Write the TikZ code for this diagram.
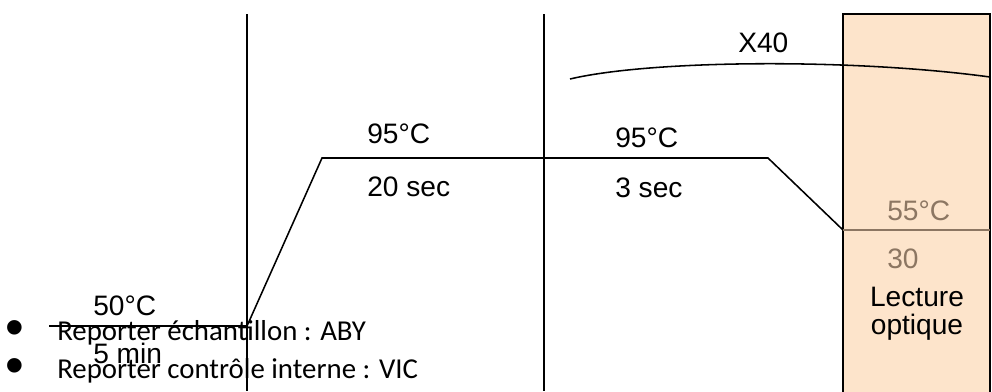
\documentclass[tikz,border=0pt]{standalone}
\usepackage{fontspec}
\setmainfont{Liberation Sans}
\newfontfamily\carlito{Carlito}
\definecolor{peach}{HTML}{FDE4CB}
\definecolor{mud}{HTML}{8C7662}
\begin{document}
\begin{tikzpicture}[x=0.025cm, y=-0.025cm,
    lbl/.style={font=\fontsize{20}{24}\selectfont, inner sep=0, anchor=base west},
    note/.style={font=\carlito\fontsize{20.5}{24}\selectfont, inner sep=0, anchor=base west},
    dot/.style={font=\fontsize{38}{38}\selectfont, inner sep=0, anchor=center},
    prof/.style={line width=1.1pt}]

    \useasboundingbox (0,0) rectangle (992,391);

    % Reading zone
    \fill[peach] (843,14) rectangle (990,395);
    \draw[prof] (843,395) -- (843,14) -- (990,14) -- (990,395);

    % Step separators
    \draw[prof] (247,14) -- (247,391);
    \draw[prof] (544,14) -- (544,391);

    % Profile points
    \coordinate (p0) at (49,326);
    \coordinate (p1) at (247,326);
    \coordinate (p2) at (322,158);
    \coordinate (p3) at (768,158);
    \coordinate (p4) at (843,230);
    \coordinate (p5) at (990,230);

    % Temperature profile
    \draw[prof] (p0) -- (p1) -- (p2) -- (p3) -- (p4);
    \draw[prof, mud] (p4) -- (p5);

    % Cycle arc
    \coordinate (c0) at (570,79);
    \coordinate (c1) at (990,77);
    \draw[prof] (c0) .. controls (650,60) and (850,58) .. (c1);
    \node[lbl] (x40) at (738,52) {X40};

    % Labels
    \node[lbl] (t50) at (93,315) {50°C};
    \node[lbl] (min5) at (93,363) {5 min};
    \node[lbl] (t95a) at (367,143) {95°C};
    \node[lbl] (sec20) at (367,196) {20 sec};
    \node[lbl] (t95b) at (615,147) {95°C};
    \node[lbl] (sec3) at (615,197) {3 sec};
    \node[lbl, mud] (t55) at (887,220) {55°C};
    \node[lbl, mud] (s30) at (887,268) {30};
    \node[lbl, anchor=base] (lecA) at (917,306) {Lecture};
    \node[lbl, anchor=base] (lecB) at (917,334) {optique};

    % Notes
    \node[dot] (bulA) at (15,333) {•};
    \node[dot] (bulB) at (15,371) {•};
    \node[note] (noteA) at (57,340) {Reporter échantillon : ABY};
    \node[note] (noteB) at (57,378) {Reporter contrôle interne : VIC};
\end{tikzpicture}
\end{document}
